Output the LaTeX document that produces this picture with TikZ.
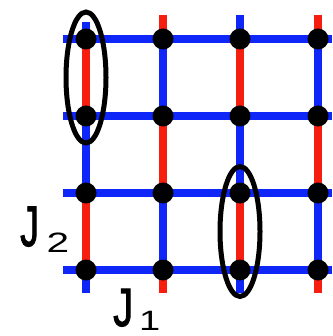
\documentclass[tikz,border=0pt]{standalone}
\usepackage{fontspec}
\setmainfont{Liberation Sans}
\newfontfamily\labfont[FakeBold=2]{Liberation Sans}
\usetikzlibrary{calc}
\definecolor{bondblue}{RGB}{14,38,248}
\definecolor{bondred}{RGB}{245,30,15}
\begin{document}
\begin{tikzpicture}[x=1pt,y=-1pt,
  dot/.style={circle,fill=black,inner sep=0pt,minimum size=21pt},
  bb/.style={draw=bondblue,line width=8pt,line cap=butt},
  rb/.style={draw=bondred,line width=8pt,line cap=butt},
  ring/.style={draw=black,line width=5pt},
  lab/.style={inner sep=0pt,anchor=base west}]
\useasboundingbox (0,0) rectangle (332,336);
% sites
\foreach \c/\x in {1/86,2/163,3/240,4/318}{
  \foreach \r/\y in {1/39,2/116,3/193,4/270}{
    \coordinate (p\c\r) at (\x,\y);
  }
  \coordinate (b\c) at (\x,293);
}
\coordinate (t1) at (86,22);
\coordinate (t2) at (163,15);
\coordinate (t3) at (240,15);
\coordinate (t4) at (318,15);
\foreach \r/\y in {1/39,2/116,3/193,4/270}{
  \coordinate (l\r) at (63,\y);
  \coordinate (e\r) at (332,\y);
}
% horizontal bonds (J1)
\foreach \r in {1,2,3,4}{
  \draw[bb] (l\r) -- (p1\r) -- (p2\r) -- (p3\r) -- (p4\r) -- (e\r);
}
% vertical bonds
\foreach \c in {1,3}{
  \draw[bb] (t\c) -- (p\c1);
  \draw[rb] (p\c1) -- (p\c2);
  \draw[bb] (p\c2) -- (p\c3);
  \draw[rb] (p\c3) -- (p\c4);
  \draw[bb] (p\c4) -- (b\c);
}
\foreach \c in {2,4}{
  \draw[rb] (t\c) -- (p\c1);
  \draw[bb] (p\c1) -- (p\c2);
  \draw[rb] (p\c2) -- (p\c3);
  \draw[bb] (p\c3) -- (p\c4);
  \draw[rb] (p\c4) -- (b\c);
}
% dots
\foreach \c in {1,2,3,4}{
  \foreach \r in {1,2,3,4}{
    \node[dot] (n\c\r) at (p\c\r) {};
  }
}
% ellipses
\coordinate (c1) at ($(n11)!0.5!(n12)$);
\coordinate (c2) at ($(n33)!0.5!(n34)$);
\draw[ring] (c1) ellipse [x radius=20pt, y radius=65.5pt];
\draw[ring] (c2) ellipse [x radius=20pt, y radius=65pt];
% labels
\node[lab] (j2) at (20,246) {\labfont\fontsize{57}{60}\selectfont\scalebox{0.66}[1]{J}};
\node[lab] (j2s) at (46.5,252.5) {\fontsize{28}{30}\selectfont\scalebox{1.45}[1]{2}};
\node[lab] (j1) at (113,326) {\labfont\fontsize{54}{58}\selectfont\scalebox{0.74}[1]{J}};
\node[lab] (j1s) at (139,330) {\fontsize{28}{30}\selectfont\scalebox{1.36}[1]{1}};
\end{tikzpicture}
\end{document}
